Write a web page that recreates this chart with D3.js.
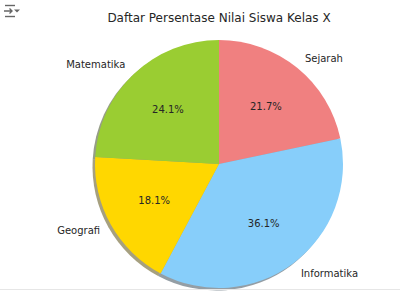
<!DOCTYPE html>
<html>
<head>
<meta charset="utf-8">
<script src="https://cdn.jsdelivr.net/npm/d3@7"></script>
<style>
  body { margin: 0; background: #fff; }
  text { font-family: "DejaVu Sans", sans-serif; fill: #262626; }
</style>
</head>
<body>
<svg id="chart" width="400" height="293"></svg>
<script>
// Data
const subjects = ['Sejarah', 'Informatika', 'Geografi', 'Matematika']
const percents = [21.7, 36.1, 18.1, 24.1]
const colors = ['#f08080', '#87cefa', '#ffd700', '#9acd32']
const title = 'Daftar Persentase Nilai Siswa Kelas X'

const W = 400, H = 293
const cx = 219, cy = 164, R = 124
const svg = d3.select('#chart')

const data = subjects.map((s, i) => ({name: s, value: percents[i], color: colors[i]}))
const pie = d3.pie().value(d => d.value).sort(null)
const arcs = pie(data)
const arc = d3.arc().innerRadius(0).outerRadius(R)

// toolbar icon (top left)
const ic = svg.append('g').attr('stroke', '#666').attr('stroke-width', 1.4).attr('fill', 'none')
ic.append('line').attr('x1', 5).attr('x2', 15).attr('y1', 5.5).attr('y2', 5.5)
ic.append('line').attr('x1', 5).attr('x2', 15).attr('y1', 16.5).attr('y2', 16.5)
ic.append('path').attr('d', 'M4,11 H12 M9.5,8.5 L12,11 L9.5,13.5')
svg.append('path').attr('d', 'M14,9.5 H20 L17,12.5 Z').attr('fill', '#666')

// Title
svg.append('text').attr('x', 219).attr('y', 22).attr('text-anchor', 'middle')
  .style('font-size', '12px').text(title)

const g = svg.append('g').attr('transform', `translate(${cx},${cy})`)

// shadow (darkened face colour, half transparent, shifted down-left)
g.append('g').attr('transform', 'translate(-2.5,2.5)')
  .selectAll('path').data(arcs).enter().append('path')
  .attr('d', arc)
  .attr('fill', d => { const c = d3.rgb(d.data.color); return d3.rgb(c.r * 0.3, c.g * 0.3, c.b * 0.3) })
  .attr('opacity', 0.5)

// slices
g.selectAll('.slice').data(arcs).enter().append('path')
  .attr('class', 'slice')
  .attr('d', arc)
  .attr('fill', d => d.data.color)

const mid = d => (d.startAngle + d.endAngle) / 2

// category labels at 1.1 R
g.selectAll('.lbl').data(arcs).enter().append('text')
  .attr('x', d => 1.1 * R * Math.sin(mid(d)))
  .attr('y', d => -1.1 * R * Math.cos(mid(d)))
  .attr('dy', '0.35em')
  .attr('text-anchor', d => Math.sin(mid(d)) > 0 ? 'start' : 'end')
  .style('font-size', '10px')
  .text(d => d.data.name)

// percentage labels at 0.6 R
g.selectAll('.pct').data(arcs).enter().append('text')
  .attr('x', d => 0.6 * R * Math.sin(mid(d)))
  .attr('y', d => -0.6 * R * Math.cos(mid(d)))
  .attr('dy', '0.35em')
  .attr('text-anchor', 'middle')
  .style('font-size', '10px')
  .text(d => d.data.value.toFixed(1) + '%')

// cell border line at bottom
svg.append('line').attr('x1', 0).attr('x2', W).attr('y1', 289.5).attr('y2', 289.5)
  .attr('stroke', '#e6e6e6').attr('stroke-width', 1)
</script>
</body>
</html>
